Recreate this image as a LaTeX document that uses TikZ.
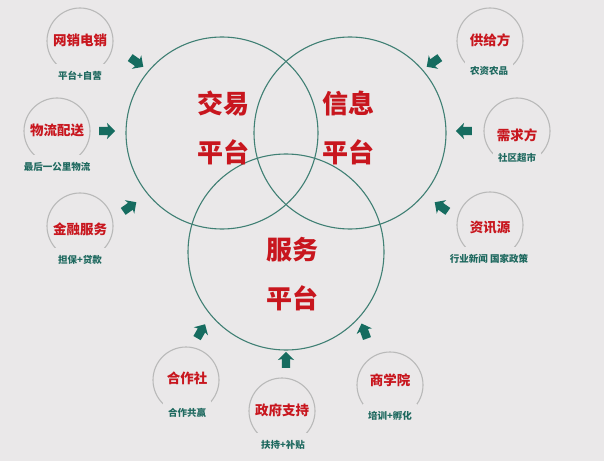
\documentclass[tikz,border=0pt]{standalone}
\usepackage{fontspec}
\setmainfont{Noto Sans CJK SC}
\usepackage{xcolor}
\usetikzlibrary{shapes.arrows}

\definecolor{bgc}{RGB}{234,232,233}
\definecolor{ringc}{RGB}{64,128,116}
\definecolor{titlered}{RGB}{200,22,30}
\definecolor{subteal}{RGB}{30,105,95}
\definecolor{arrowc}{RGB}{22,108,96}
\definecolor{rimgray}{RGB}{185,185,185}

\begin{document}
\begin{tikzpicture}[
  x=1pt, y=1pt,
  platform/.style={circle, draw=ringc, line width=1.1pt, minimum size=192pt, inner sep=0pt},
  bigtext/.style={text=titlered, align=center, font=\bfseries\fontsize{26}{49}\selectfont},
  bub/.style={circle, draw=rimgray, line width=1.1pt, minimum size=66pt, inner sep=0pt},
  bubtitle/.style={text=titlered, font=\bfseries\fontsize{13.5}{16}\selectfont},
  sub/.style={fill=bgc, text=subteal, inner xsep=5pt, inner ysep=7pt, font=\bfseries\fontsize{9.5}{11}\selectfont},
  push/.style={single arrow, fill=arrowc, inner xsep=0pt, inner ysep=4pt, minimum height=16pt, single arrow head extend=4pt, single arrow head indent=1pt}
]

% Background
\fill[bgc] (0,0) rectangle (604,461);
\useasboundingbox (0,0) rectangle (604,461);

% Three platforms
\node (trade) [platform] at (222,328) {};
\node (info) [platform] at (350,328) {};
\node (serv) [platform, minimum size=196pt] at (286,209) {};
\node (tradet) [bigtext] at (223,333.5) {交易\\平台};
\node (infot) [bigtext] at (348,333.5) {信息\\平台};
\node (servt) [bigtext] at (292,187) {服务\\平台};

% Left side
\node (online) [bub] at (80,420) {};
\node [bubtitle] at (80,421) {网销电销};
\node (onlines) [sub] at (80,385) {平台+自营};
\node (logis) [bub] at (57,330) {};
\node [bubtitle] at (57,331) {物流配送};
\node (logiss) [sub] at (57,294) {最后一公里物流};
\node (fin) [bub] at (80,235) {};
\node [bubtitle] at (80,232) {金融服务};
\node (fins) [sub] at (80,201) {担保+贷款};

% Right side
\node (supply) [bub] at (490,420) {};
\node [bubtitle] at (490,421) {供给方};
\node (supplys) [sub] at (489,390) {农资农品};
\node (demand) [bub] at (517,330) {};
\node [bubtitle] at (517,326) {需求方};
\node (demands) [sub] at (517,303) {社区超市};
\node (news) [bub] at (490,236) {};
\node [bubtitle] at (490,233) {资讯源};
\node (newss) [sub] at (489,202) {行业新闻 国家政策};

% Bottom
\node (coop) [bub] at (186,81) {};
\node [bubtitle] at (187,83) {合作社};
\node (coops) [sub] at (187,48) {合作共赢};
\node (gov) [bub] at (282,50) {};
\node [bubtitle] at (282,51) {政府支持};
\node (govs) [sub] at (283,16) {扶持+补贴};
\node (school) [bub] at (390,76) {};
\node [bubtitle] at (390,81) {商学院};
\node (schools) [sub] at (390,45) {培训+孵化};

% Arrows
\node (a1) [push, rotate=-35] at (135,400) {};
\node (a2) [push] at (105,330) {};
\node (a3) [push, rotate=35] at (128,253) {};
\node (a4) [push, rotate=215] at (435,400) {};
\node (a5) [push, rotate=180] at (466,330) {};
\node (a6) [push, rotate=145] at (443,253) {};
\node (a7) [push, rotate=60] at (200,128) {};
\node (a8) [push, rotate=90] at (286,99) {};
\node (a9) [push, rotate=110] at (365,128) {};
\end{tikzpicture}
\end{document}
